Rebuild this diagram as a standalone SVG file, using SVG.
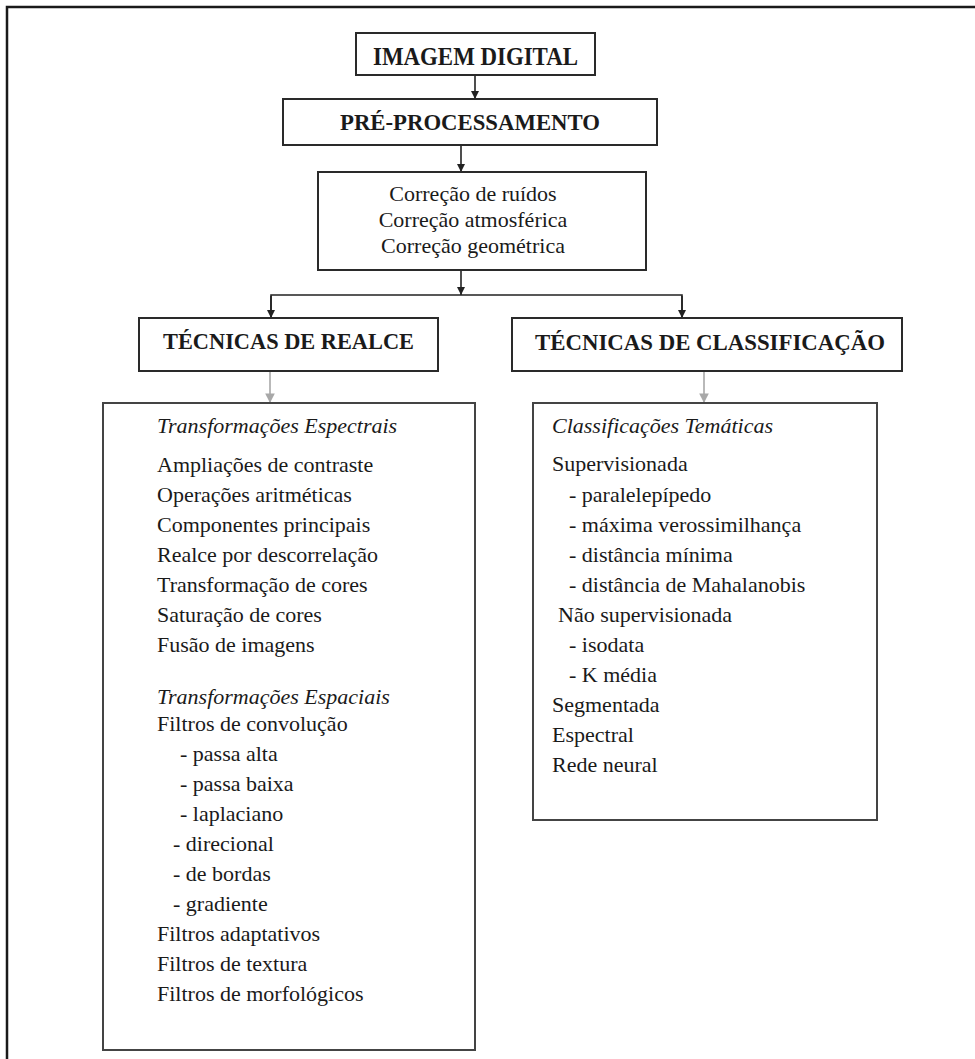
<svg xmlns="http://www.w3.org/2000/svg" width="975" height="1059" viewBox="0 0 975 1059">
<defs>
<marker id="ah" viewBox="0 0 8 10" refX="8" refY="5" markerWidth="8" markerHeight="10" markerUnits="userSpaceOnUse" orient="auto">
<path d="M0,1 L8,5 L0,9 z" fill="#222"/>
</marker>
<marker id="ahg" viewBox="0 0 8 10" refX="8" refY="5" markerWidth="10" markerHeight="12" markerUnits="userSpaceOnUse" orient="auto">
<path d="M0,1 L8,5 L0,9 z" fill="#a8a8a8"/>
</marker>
</defs>
<style>
.box{fill:#fff;stroke:#2a2a2a;stroke-width:2}
.cbox{fill:#fff;stroke:#444;stroke-width:2}
.hd{font-family:"Liberation Serif","Times New Roman",serif;font-weight:bold;fill:#1a1a1a}
.t{font-family:"Liberation Serif","Times New Roman",serif;font-size:22px;fill:#1a1a1a}
.it{font-style:italic}
.ln{stroke:#222;stroke-width:1.6;fill:none}
.lg{stroke:#a8a8a8;stroke-width:1.6;fill:none}
</style>
<rect width="975" height="1059" fill="#fff"/>
<rect id="frame" x="7" y="7" width="1000" height="1100" fill="none" stroke="#1a1a1a" stroke-width="2.5"/>

<g id="connectors">
<line class="ln" x1="475" y1="75" x2="475" y2="99" marker-end="url(#ah)"/>
<line class="ln" x1="461" y1="145" x2="461" y2="172" marker-end="url(#ah)"/>
<line class="ln" x1="461" y1="270" x2="461" y2="295" marker-end="url(#ah)"/>
<polyline class="ln" points="271,318 271,295 682,295 682,318"/>
<line class="ln" x1="271" y1="296" x2="271" y2="318" marker-end="url(#ah)"/>
<line class="ln" x1="682" y1="296" x2="682" y2="318" marker-end="url(#ah)"/>
<line class="lg" x1="270" y1="371" x2="270" y2="403" marker-end="url(#ahg)"/>
<line class="lg" x1="704" y1="371" x2="704" y2="403" marker-end="url(#ahg)"/>
</g>

<g id="imagem-digital">
<rect class="box" x="356" y="33" width="239" height="42"/>
<text class="hd" x="373" y="65" font-size="25" textLength="205" lengthAdjust="spacingAndGlyphs">IMAGEM DIGITAL</text>
</g>

<g id="pre-processamento">
<rect class="box" x="283" y="99" width="374" height="46"/>
<text class="hd" x="340" y="130" font-size="24" textLength="260" lengthAdjust="spacingAndGlyphs">PRÉ-PROCESSAMENTO</text>
</g>

<g id="correcoes">
<rect class="box" x="318" y="172" width="328" height="98"/>
<text class="t" x="473" y="201" text-anchor="middle">Correção de ruídos</text>
<text class="t" x="473" y="227" text-anchor="middle">Correção atmosférica</text>
<text class="t" x="473" y="253" text-anchor="middle">Correção geométrica</text>
</g>

<g id="tecnicas-realce">
<rect class="box" x="139" y="318" width="299" height="53"/>
<text class="hd" x="163" y="349" font-size="24" textLength="251" lengthAdjust="spacingAndGlyphs">TÉCNICAS DE REALCE</text>
</g>

<g id="tecnicas-classificacao">
<rect class="box" x="512" y="318" width="390" height="53"/>
<text class="hd" x="535" y="350" font-size="24" textLength="350" lengthAdjust="spacingAndGlyphs">TÉCNICAS DE CLASSIFICAÇÃO</text>
</g>

<g id="realce-lista">
<rect class="cbox" x="103" y="403" width="372" height="647"/>
<text class="t it" x="157" y="433">Transformações Espectrais</text>
<text class="t" x="157" y="472">Ampliações de contraste</text>
<text class="t" x="157" y="502">Operações aritméticas</text>
<text class="t" x="157" y="532">Componentes principais</text>
<text class="t" x="157" y="562">Realce por descorrelação</text>
<text class="t" x="157" y="592">Transformação de cores</text>
<text class="t" x="157" y="622">Saturação de cores</text>
<text class="t" x="157" y="652">Fusão de imagens</text>
<text class="t it" x="157" y="704">Transformações Espaciais</text>
<text class="t" x="157" y="731">Filtros de convolução</text>
<text class="t" x="180" y="761">- passa alta</text>
<text class="t" x="180" y="791">- passa baixa</text>
<text class="t" x="180" y="821">- laplaciano</text>
<text class="t" x="173" y="851">- direcional</text>
<text class="t" x="173" y="881">- de bordas</text>
<text class="t" x="173" y="911">- gradiente</text>
<text class="t" x="157" y="941">Filtros adaptativos</text>
<text class="t" x="157" y="971">Filtros de textura</text>
<text class="t" x="157" y="1001">Filtros de morfológicos</text>
</g>

<g id="classificacao-lista">
<rect class="cbox" x="533" y="403" width="344" height="417"/>
<text class="t it" x="552" y="433">Classificações Temáticas</text>
<text class="t" x="552" y="471">Supervisionada</text>
<text class="t" x="569" y="502">- paralelepípedo</text>
<text class="t" x="569" y="532">- máxima verossimilhança</text>
<text class="t" x="569" y="562">- distância mínima</text>
<text class="t" x="569" y="592">- distância de Mahalanobis</text>
<text class="t" x="558" y="622">Não supervisionada</text>
<text class="t" x="569" y="652">- isodata</text>
<text class="t" x="569" y="682">- K média</text>
<text class="t" x="552" y="712">Segmentada</text>
<text class="t" x="552" y="742">Espectral</text>
<text class="t" x="552" y="772">Rede neural</text>
</g>
</svg>
